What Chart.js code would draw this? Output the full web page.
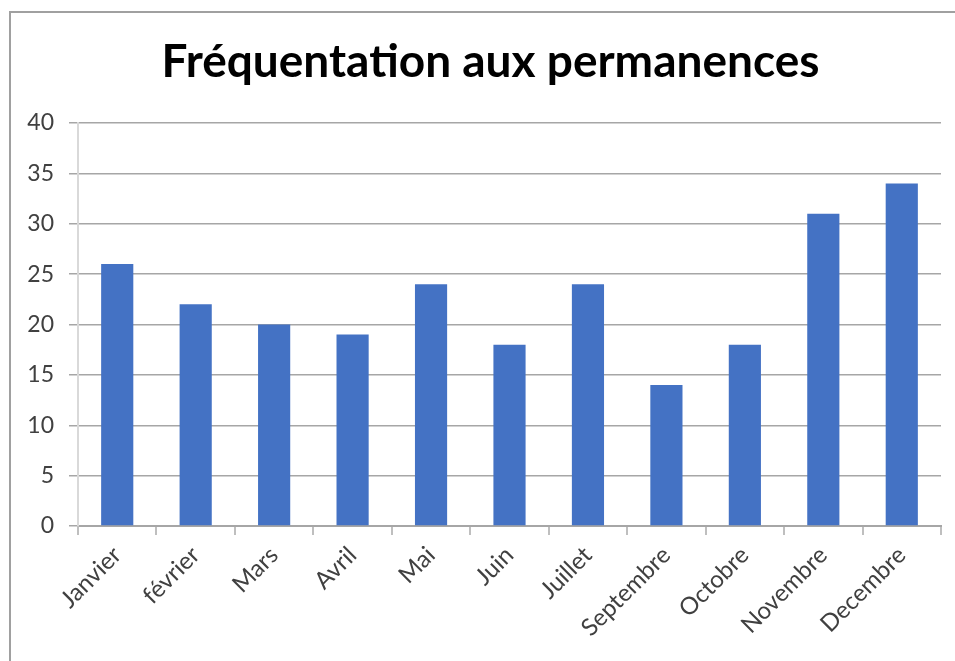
<!DOCTYPE html>
<html>
<head>
<meta charset="utf-8">
<script src="https://cdn.jsdelivr.net/npm/chart.js@4.4.1/dist/chart.umd.min.js"></script>
<style>
  html, body { margin: 0; padding: 0; background: #ffffff; }
  #wrap { position: relative; width: 955px; height: 661px; overflow: hidden; }
  #c { position: absolute; left: 0; top: 0; }
  #frame { position: absolute; left: 9px; top: 11px; width: 960px; height: 700px;
           border-left: 2px solid #a0a0a0; border-top: 2px solid #a0a0a0; pointer-events: none; }
</style>
</head>
<body>
<div id="wrap">
  <canvas id="c" width="955" height="661"></canvas>
  <div id="frame"></div>
</div>
<script>
const titleText = "Fréquentation aux permanences";
const categories = ["Janvier", "février", "Mars", "Avril", "Mai", "Juin", "Juillet", "Septembre", "Octobre", "Novembre", "Decembre"];
const values = [26, 22, 20, 19, 24, 18, 24, 14, 18, 31, 34];
const yMin = 0, yMax = 40, yStep = 5;

const FONT = "Lato, 'Open Sans', sans-serif";

// Shift the title's horizontal band so it is centred like the original (over the framed area)
const titleShift = {
  id: 'titleShift',
  afterLayout(chart) {
    if (chart.titleBlock) { chart.titleBlock.left = 40; }
  }
};

new Chart(document.getElementById('c'), {
  type: 'bar',
  data: {
    labels: categories,
    datasets: [{
      data: values,
      backgroundColor: '#4472C4',
      borderWidth: 0,
      categoryPercentage: 1.0,
      barPercentage: 0.41
    }]
  },
  options: {
    responsive: false,
    animation: false,
    devicePixelRatio: 1,
    layout: { padding: { left: 0, right: 14, top: 0, bottom: 0 } },
    plugins: {
      legend: { display: false },
      tooltip: { enabled: false },
      title: {
        display: true,
        text: titleText,
        color: '#000000',
        font: { family: FONT, size: 46, weight: 'bold', lineHeight: 1.2 },
        padding: { top: 35, bottom: 32.8 }
      }
    },
    scales: {
      x: {
        grid: { display: true, drawOnChartArea: false, drawTicks: true, tickLength: 9, color: '#bfbfbf', lineWidth: 2, offset: true },
        border: { display: true, color: '#a6a6a6', width: 2 },
        ticks: { color: '#404040', font: { family: FONT, size: 24 }, minRotation: 45, maxRotation: 45, padding: 6, autoSkip: false },
        afterFit: (s) => { s.height = 135; }
      },
      y: {
        min: yMin, max: yMax,
        grid: { color: '#a6a6a6', lineWidth: 1.5, drawTicks: true, tickLength: 9 },
        border: { display: true, color: '#d9d9d9', width: 2 },
        ticks: { stepSize: yStep, color: '#404040', font: { family: FONT, size: 23 }, padding: 15 },
        afterFit: (s) => { s.width = 78; }
      }
    }
  },
  plugins: [titleShift]
});
</script>
</body>
</html>
